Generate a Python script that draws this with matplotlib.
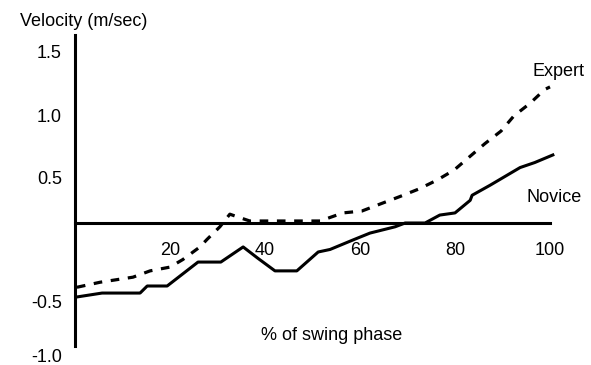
import numpy as np
import matplotlib.pyplot as plt
from matplotlib.transforms import ScaledTranslation

plt.rcParams['font.family'] = ['Liberation Sans', 'DejaVu Sans']

# Expert velocity (dashed)
expert_x = [0.4, 5.3, 12.2, 15.8, 20.0, 22.7, 26.3, 27.8, 30.5, 32.6, 34.1, 36.8, 43.2,
            51.6, 56.4, 60.4, 64.2, 68.4, 72.4, 76.2, 79.8, 83.2, 86.3, 89.7, 92.4, 95.8,
            98.9, 100.0]
expert_v = [-0.51, -0.47, -0.43, -0.38, -0.35, -0.29, -0.19, -0.13, -0.03, 0.07, 0.05, 0.016,
            0.016, 0.016, 0.08, 0.095, 0.15, 0.21, 0.27, 0.34, 0.42, 0.53, 0.63, 0.73, 0.85,
            0.95, 1.06, 1.08]

# Novice velocity (solid)
novice_x = [0.4, 5.7, 13.7, 15.2, 19.4, 25.9, 30.7, 35.4, 38.5, 42.1, 46.7, 51.2, 53.7,
            58.5, 62.1, 67.4, 69.5, 73.7, 76.8, 80.0, 83.2, 83.6, 87.4, 93.7, 96.8, 100.6]
novice_v = [-0.587, -0.556, -0.556, -0.5, -0.5, -0.31, -0.31, -0.19, -0.28, -0.38, -0.38,
            -0.23, -0.21, -0.135, -0.08, -0.03, 0.0, 0.0, 0.063, 0.08, 0.18, 0.22, 0.30, 0.44,
            0.48, 0.54]

xticks = [20, 40, 60, 80, 100]
yticks = [1.5, 1.0, 0.5, -0.5, -1.0]
ytick_labels = ['1.5', '1.0', '0.5', '-0.5', '-1.0']

fig = plt.figure(figsize=(5.91, 3.65), dpi=100)
ax = fig.add_axes([75 / 591, 16 / 365, 475 / 591, 315 / 365])

ax.plot(novice_x, novice_v, color='black', lw=2.2, clip_on=False)
ax.plot(expert_x, expert_v, color='black', lw=2.3, dashes=(2.7, 2.7), clip_on=False)

ax.set_xlim(0, 100)
ax.set_ylim(-1.0, 1.5)

for s in ['top', 'right']:
    ax.spines[s].set_visible(False)
ax.spines['left'].set_position(('data', 0))
ax.spines['bottom'].set_position(('data', 0))
ax.spines['left'].set_bounds(-0.98, 1.49)
for s in ['left', 'bottom']:
    ax.spines[s].set_linewidth(2.2)

ax.set_xticks(xticks)
ax.set_xticklabels([str(t) for t in xticks])
ax.set_yticks(yticks)
ax.set_yticklabels(ytick_labels)
ax.tick_params(axis='x', length=0, pad=14, labelsize=13)
ax.tick_params(axis='y', length=0, pad=9.5, labelsize=13)

# y labels sit a bit below their gridline values in the original
shifts = [18, 18, 18, 16, 6]
for lab, dy in zip(ax.get_yticklabels(), shifts):
    lab.set_transform(lab.get_transform() + ScaledTranslation(0, -dy / 100, fig.dpi_scale_trans))

fig.text(84 / 591, 1 - 22 / 365, 'Velocity (m/sec)', ha='center', va='center', fontsize=13)
fig.text(332 / 591, 1 - 336 / 365, '% of swing phase', ha='center', va='center', fontsize=13)
fig.text(558 / 591, 1 - 71 / 365, 'Expert', ha='center', va='center', fontsize=13)
fig.text(554 / 591, 1 - 197 / 365, 'Novice', ha='center', va='center', fontsize=13)

fig.savefig('out.png', dpi=100)
